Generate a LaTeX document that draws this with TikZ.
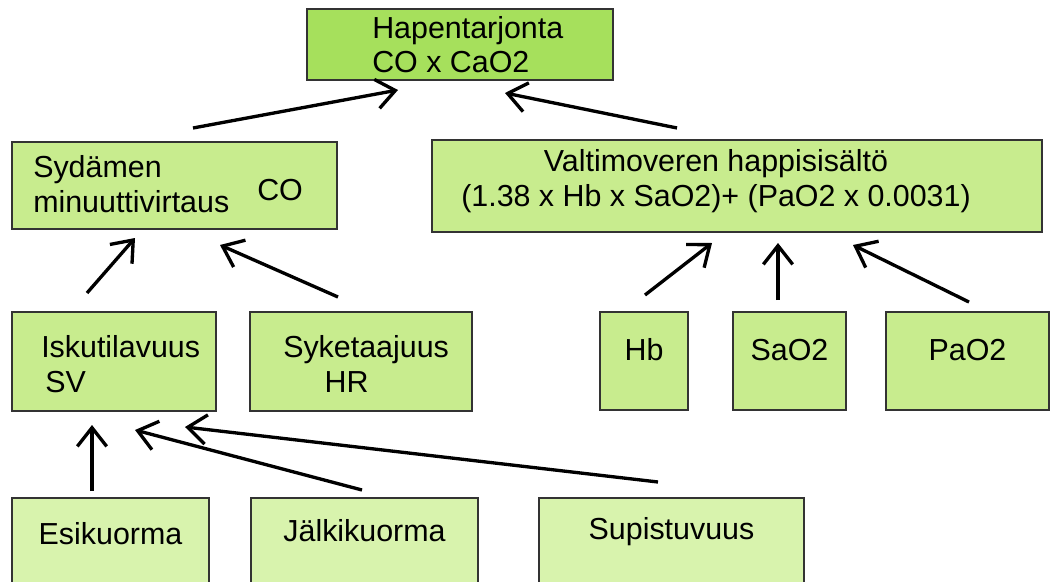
\documentclass[tikz,border=0pt]{standalone}
\usepackage{fontspec}
\setmainfont{Liberation Sans}
\usepackage{tikz}
\usetikzlibrary{arrows.meta,fit}
\usepackage{xcolor}
\definecolor{topgreen}{HTML}{A6E05C}
\definecolor{midgreen}{HTML}{C8EC8E}
\definecolor{lowgreen}{HTML}{D8F3AD}

\begin{document}
\begin{tikzpicture}[
    x=0.75pt, y=-0.75pt,
    font=\fontsize{22.8}{26}\selectfont,
    box/.style={draw=black!80, line width=1.5pt, rectangle, inner sep=0pt},
    topbox/.style={box, fill=topgreen},
    midbox/.style={box, fill=midgreen},
    lowbox/.style={box, fill=lowgreen},
    txt/.style={align=left, inner sep=0pt},
    arrow/.style={-{Straight Barb[length=14pt, width=22pt]}, line width=2.5pt}
  ]
    \fill [white] (0,0) rectangle (1050,582);
    \clip (0,0) rectangle (1050,582);

    \node (supply) [topbox, fit={(307,9) (613,80)}] {};
    \node (supplytext) [txt, anchor=west] at (372,44.5) {Hapentarjonta\\CO x CaO2};

    \node (output) [midbox, fit={(12,142) (337,229)}] {};
    \node (outputtext) [txt, anchor=west] at (33,184) {Sydämen\\minuuttivirtaus};
    \node (outputco) [txt, anchor=west] at (257,190) {CO};

    \node (content) [midbox, fit={(432,140) (1042,232)}] {};
    \node (contenttext) [txt, align=center] at (716,181) {Valtimoveren happisisältö\\(1.38 x Hb x SaO2)+ (PaO2 x 0.0031)};

    \node (stroke) [midbox, fit={(12,312) (216,411)}] {};
    \node (stroketext) [txt, anchor=west] at (41,364) {Iskutilavuus\\\hspace*{3pt}SV};
    \node (rate) [midbox, fit={(250,312) (472,411)}] {};
    \node (ratetext) [txt, anchor=west] at (283,364) {Syketaajuus\\\hspace*{31pt}HR};

    \node (hb) [midbox, fit={(600,312) (688,410)}] {Hb};
    \node (sat) [midbox, fit={(733,312) (846,410)}] {SaO2};
    \node (pres) [midbox, fit={(886,312) (1049,410)}] {PaO2};

    \node (preload) [lowbox, fit={(12,498) (209,592)}] {Esikuorma};
    \node (afterload) [lowbox, fit={(251,498) (478,586)}] {Jälkikuorma};
    \node (contract) [lowbox, fit={(539,498) (804,588)}] {Supistuvuus};

    % free arrow ends between the boxes
    \coordinate (outputup) at (193,128);
    \coordinate (supplyl) at (398,90);
    \coordinate (contentup) at (677,128);
    \coordinate (supplyr) at (505,93);
    \coordinate (strokeup) at (87,293);
    \coordinate (outputl) at (135,238);
    \coordinate (rateup) at (338,297);
    \coordinate (outputr) at (220,245);
    \coordinate (hbup) at (645,295);
    \coordinate (contentl) at (712,243);
    \coordinate (satup) at (778,300);
    \coordinate (contentm) at (778,243);
    \coordinate (presup) at (969,302);
    \coordinate (contentr) at (853,245);
    \coordinate (preloadup) at (92,491);
    \coordinate (strokel) at (92,425);
    \coordinate (afterloadup) at (362,490);
    \coordinate (strokem) at (135,430);
    \coordinate (contractup) at (658,482);
    \coordinate (stroker) at (185,427);

    \draw [arrow] (outputup) -- (supplyl);
    \draw [arrow] (contentup) -- (supplyr);
    \draw [arrow] (strokeup) -- (outputl);
    \draw [arrow] (rateup) -- (outputr);
    \draw [arrow] (hbup) -- (contentl);
    \draw [arrow] (satup) -- (contentm);
    \draw [arrow] (presup) -- (contentr);
    \draw [arrow] (preloadup) -- (strokel);
    \draw [arrow] (afterloadup) -- (strokem);
    \draw [arrow] (contractup) -- (stroker);
  \end{tikzpicture}
\end{document}
